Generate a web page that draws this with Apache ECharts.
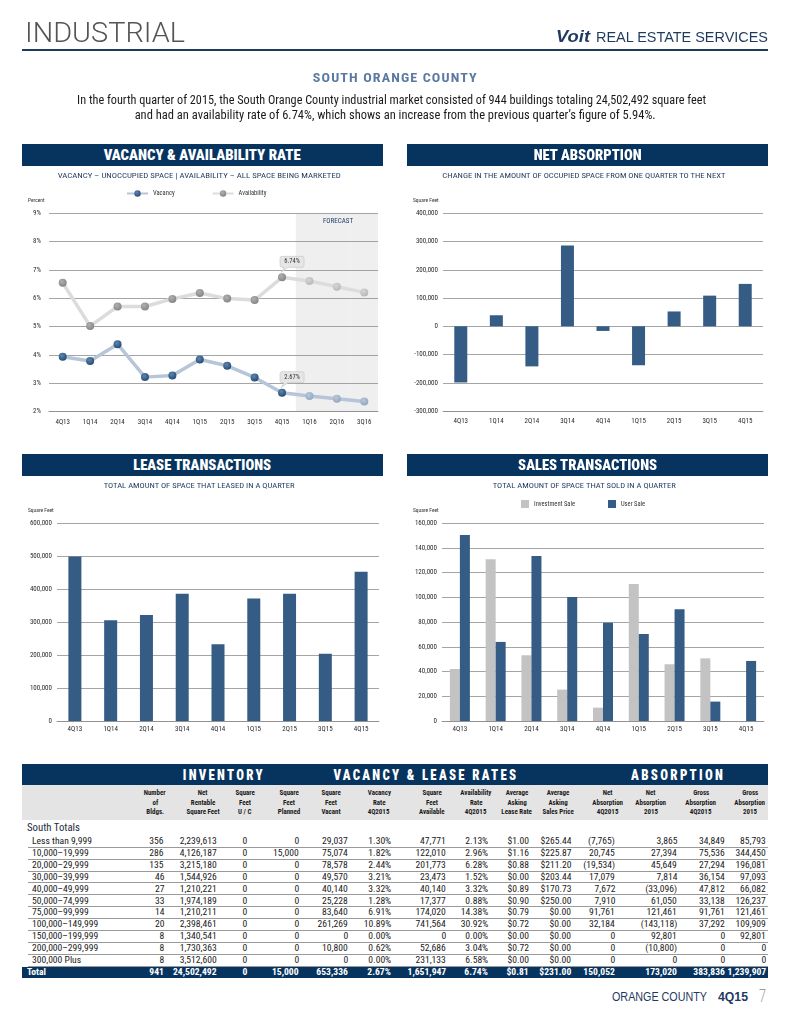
<!DOCTYPE html>
<html><head><meta charset="utf-8">
<script src="https://cdn.jsdelivr.net/npm/echarts@6/dist/echarts.min.js"></script>
<style>
html,body{margin:0;padding:0;background:#fff;}
body{width:790px;height:1024px;position:relative;overflow:hidden;font-family:"Liberation Sans Narrow","Roboto Condensed","Arial Narrow",Roboto,"Liberation Sans",sans-serif;}
.t{position:absolute;white-space:nowrap;line-height:1;}
.r{position:absolute;}
</style></head><body>
<div id="chart" style="position:absolute;left:0;top:0;width:790px;height:760px;"></div>
<div id="page"></div>
<script>
// ---------------- DATA ----------------
const quartersForecast = ['4Q13','1Q14','2Q14','3Q14','4Q14','1Q15','2Q15','3Q15','4Q15','1Q16','2Q16','3Q16'];
const forecastQuarters = ['1Q16','2Q16','3Q16'];
const vacancyRate = [3.94,3.79,4.38,3.22,3.28,3.84,3.62,3.21,2.67,2.55,2.46,2.36];
const availabilityRate = [6.55,5.02,5.71,5.71,5.98,6.19,5.99,5.94,6.74,6.61,6.41,6.21];
const calloutQuarter = '4Q15';

const quarters = ['4Q13','1Q14','2Q14','3Q14','4Q14','1Q15','2Q15','3Q15','4Q15'];
const netAbsorption = [-199000,39000,-142000,286000,-16500,-138000,52500,108468,150052];
const leaseTransactions = [499000,306000,322000,386000,233000,372000,386000,204000,453000];
const investmentSale = [42100,130900,53200,25400,10800,110900,45900,50700,0];
const userSale = [150600,64000,133600,100400,79600,70400,90400,15700,48600];

const sizeRanges = ['Less than 9,999','10,000\u201319,999','20,000\u201329,999','30,000\u201339,999','40,000\u201349,999','50,000\u201374,999','75,000\u201399,999','100,000\u2013149,999','150,000\u2013199,999','200,000\u2013299,999','300,000 Plus'];
const bldgs = [356,286,135,46,27,33,14,20,8,8,8];
const netRentable = [2239613,4126187,3215180,1544926,1210221,1974189,1210211,2398461,1340541,1730363,3512600];
const sfUC = [0,0,0,0,0,0,0,0,0,0,0];
const sfPlanned = [0,15000,0,0,0,0,0,0,0,0,0];
const sfVacant = [29037,75074,78578,49570,40140,25228,83640,261269,0,10800,0];
const vacRate = [1.30,1.82,2.44,3.21,3.32,1.28,6.91,10.89,0.00,0.62,0.00];
const sfAvailable = [47771,122010,201773,23473,40140,17377,174020,741564,0,52686,231133];
const availRate = [2.13,2.96,6.28,1.52,3.32,0.88,14.38,30.92,0.00,3.04,6.58];
const leaseRate = [1.00,1.16,0.88,0.00,0.89,0.90,0.79,0.72,0.00,0.72,0.00];
const salesPrice = [265.44,225.87,211.20,203.44,170.73,250.00,0,0,0,0,0];
const netAbs4Q = [-7765,20745,-19534,17079,7672,7910,91761,32184,0,0,0];
const netAbs2015 = [3865,27394,45649,7814,-33096,61050,121461,-143118,92801,-10800,0];
const grossAbs4Q = [34849,75536,27294,36154,47812,33138,91761,37292,0,0,0];
const grossAbs2015 = [85793,344450,196081,97093,66082,126237,121461,109909,92801,0,0];
const totalRow = ['Total','941','24,502,492','0','15,000','653,336','2.67%','1,651,947','6.74%','$0.81','$231.00','150,052','173,020','383,836','1,239,907'];

const colHeads = [['Number','of','Bldgs.'],['Net','Rentable','Square Feet'],['Square','Feet','U / C'],['Square','Feet','Planned'],['Square','Feet','Vacant'],['Vacancy','Rate','4Q2015'],['Square','Feet','Available'],['Availability','Rate','4Q2015'],['Average','Asking','Lease Rate'],['Average','Asking','Sales Price'],['Net','Absorption','4Q2015'],['Net','Absorption','2015'],['Gross','Absorption','4Q2015'],['Gross','Absorption','2015']];

// ---------------- STYLE ----------------
const FONT = '"Liberation Sans Narrow","Roboto Condensed","Arial Narrow",Roboto,"Liberation Sans",sans-serif';
const NAVY_HDR = '#07345f';
const BAR = '#345c85';
const GRAY_BAR = '#c3c3c3';
const TXT_NAVY = '#1f3a5f';
const GRIDC = {color:'#8e8e8e', width:0.8};
const LBL = {fontSize:7, color:'#2b2b2b', fontFamily:FONT};

const page = document.getElementById('page');
function rect(x,y,w,h,c){const d=document.createElement('div');d.className='r';d.style.cssText=`left:${x}px;top:${y}px;width:${w}px;height:${h}px;background:${c}`;page.appendChild(d);return d;}
function txt(str,o){
  const d=document.createElement('div');d.className='t';d.textContent=str;
  d.style.fontSize=o.size+'px';d.style.fontWeight=o.weight||400;d.style.color=o.color||'#1a1a1a';
  if(o.font)d.style.fontFamily=o.font; if(o.ls)d.style.letterSpacing=o.ls+'px'; if(o.italic)d.style.fontStyle='italic';
  page.appendChild(d);
  const nat=d.getBoundingClientRect().width;
  const s=o.w? o.w/nat : (o.scale||1);
  const al=o.align||'left';
  const left= al==='left'?o.x : al==='center'? o.x-nat/2 : o.x-nat;
  d.style.left=left+'px'; d.style.top=(o.y-o.size/2)+'px';
  d.style.transformOrigin= al==='left'?'left center':al==='center'?'center center':'right center';
  d.style.transform='scaleX('+s+')';
  return d;
}
function measure(str,size,weight){const d=document.createElement('div');d.className='t';d.style.fontSize=size+'px';d.style.fontWeight=weight;d.textContent=str;page.appendChild(d);const w=d.getBoundingClientRect().width;page.removeChild(d);return w;}

// ---------------- PAGE HEADER ----------------
txt('INDUSTRIAL',{x:25,y:33.5,size:27,weight:300,color:'#555',w:160,font:'Roboto,"Liberation Sans",sans-serif'});
txt('Voit',{x:556,y:36.5,size:17,weight:700,italic:true,color:TXT_NAVY,w:34,font:'"Liberation Sans",Roboto,sans-serif'});
txt('REAL ESTATE SERVICES',{x:596,y:37,size:14,color:TXT_NAVY,w:172,font:'"Liberation Sans",Roboto,sans-serif'});
rect(22,48.5,746,2.5,TXT_NAVY);
txt('SOUTH ORANGE COUNTY',{x:395,y:78,size:12.5,weight:700,color:'#5b7aa1',align:'center',w:165,ls:1});
txt('In the fourth quarter of 2015, the South Orange County industrial market consisted of 944 buildings totaling 24,502,492 square feet',{x:391.5,y:100,size:12,align:'center',w:629,color:'#1a1a1a'});
txt('and had an availability rate of 6.74%, which shows an increase from the previous quarter\u2019s figure of 5.94%.',{x:395.5,y:115,size:12,align:'center',w:521,color:'#1a1a1a'});

// section headers
const sections=[
 {t:'VACANCY & AVAILABILITY RATE',x:21.7,y:144,w:361.6,tw:197,sub:'VACANCY \u2013 UNOCCUPIED SPACE  |  AVAILABILITY \u2013 ALL SPACE BEING MARKETED',sw:283},
 {t:'NET ABSORPTION',x:406.7,y:144,w:361,tw:108,sub:'CHANGE IN THE AMOUNT OF OCCUPIED SPACE FROM ONE QUARTER TO THE NEXT',sw:283},
 {t:'LEASE TRANSACTIONS',x:21.7,y:454,w:361.6,tw:138,sub:'TOTAL AMOUNT OF SPACE THAT LEASED IN A QUARTER',sw:191},
 {t:'SALES TRANSACTIONS',x:406.7,y:454,w:361,tw:139,sub:'TOTAL AMOUNT OF SPACE THAT SOLD IN A QUARTER',sw:183}
];
sections.forEach(s=>{
  rect(s.x,s.y,s.w,21.7,NAVY_HDR);
  txt(s.t,{x:s.x+s.w/2,y:s.y+11,size:14,weight:900,color:'#fff',align:'center',w:s.tw});
  txt(s.sub,{x:s.x+s.w/2-3,y:s.y+31.7,size:8,color:TXT_NAVY,align:'center',w:s.sw});
});

// ---------------- TABLE ----------------
const TL=21.7, TW=746.6;
rect(TL,764,TW,21,NAVY_HDR);
txt('INVENTORY',{x:224,y:775,size:14,weight:900,color:'#fff',align:'center',w:82,ls:2.5});
txt('VACANCY & LEASE RATES',{x:426,y:775,size:14,weight:900,color:'#fff',align:'center',w:185,ls:2.5});
txt('ABSORPTION',{x:678,y:775,size:14,weight:900,color:'#fff',align:'center',w:94,ls:2.5});
rect(TL,785,TW,35,'#e4e4e4');
const headCenter=[155,203,245,289,331,379,432,476,517,558,608,651,701,750];
const colRight=[164,217,247,299,348,391,446,488,529,571,615,677,725,766];
const hScale = 31/measure('Availability',8,700);
colHeads.forEach((lines,ci)=>{
  lines.forEach((ln,li)=>{
    txt(ln,{x:headCenter[ci],y:793.3+li*9.2,size:8,weight:700,color:'#1a1a1a',align:'center',scale:hScale});
  });
});
txt('South Totals',{x:26.7,y:828,size:10.5,color:'#1d2d44',w:53});
const dScale = 37/measure('2,239,613',8.5,400);
const fInt=n=> n<0? '('+Math.abs(n).toLocaleString('en-US')+')' : n.toLocaleString('en-US');
const fPct=v=> v.toFixed(2)+'%';
const fUsd=v=> '$'+v.toFixed(2);
const ROW0=841, PITCH=11.95;
sizeRanges.forEach((lab,i)=>{
  const y=ROW0+i*PITCH;
  const cells=[fInt(bldgs[i]),fInt(netRentable[i]),fInt(sfUC[i]),fInt(sfPlanned[i]),fInt(sfVacant[i]),fPct(vacRate[i]),fInt(sfAvailable[i]),fPct(availRate[i]),fUsd(leaseRate[i]),fUsd(salesPrice[i]),fInt(netAbs4Q[i]),fInt(netAbs2015[i]),fInt(grossAbs4Q[i]),fInt(grossAbs2015[i])];
  txt(lab,{x:31.7,y:y,size:8.5,scale:dScale});
  cells.forEach((c,ci)=>txt(c,{x:colRight[ci],y:y,size:8.5,align:'right',scale:dScale}));
  rect(28,y+5.6,TW-6.3,0.9,'#9a9a9a');
});
const ty=ROW0+11*PITCH;
rect(TL,ty-5.5,TW,11.4,NAVY_HDR);
txt(totalRow[0],{x:26.7,y:ty,size:8.5,weight:700,color:'#fff',scale:dScale});
totalRow.slice(1).forEach((c,ci)=>txt(c,{x:colRight[ci],y:ty,size:8.5,weight:700,color:'#fff',align:'right',scale:dScale}));

// footer
txt('ORANGE COUNTY',{x:612,y:997,size:12,color:TXT_NAVY,w:95,font:'"Liberation Sans",Roboto,sans-serif'});
txt('4Q15',{x:718,y:997,size:12,weight:700,color:TXT_NAVY,w:30,font:'"Liberation Sans",Roboto,sans-serif'});
txt('7',{x:759,y:996,size:18,weight:300,color:'#9a9a9a',w:7,font:'Roboto,sans-serif'});

// ---------------- CHARTS ----------------
const chart = echarts.init(document.getElementById('chart'),null,{renderer:'canvas'});
const fmtK = v => v.toLocaleString('en-US');
function yAx(gi,min,max,interval,fmt,margin){
  return {type:'value',gridIndex:gi,min,max,interval,axisLine:{show:false},axisTick:{show:false},
    splitLine:{show:true,lineStyle:GRIDC},axisLabel:Object.assign({formatter:fmt,margin,padding:[0,0,5,0]},LBL)};
}
function xAx(gi,data,margin){
  return {type:'category',gridIndex:gi,data,axisTick:{show:false},axisLine:{onZero:false,lineStyle:GRIDC},
    axisLabel:Object.assign({margin,interval:0},LBL)};
}
const grad = (c1,c2)=>({type:'radial',x:0.4,y:0.35,r:0.75,colorStops:[{offset:0,color:c1},{offset:1,color:c2}]});
const vacColor = grad('#5f86ad','#1b4470'), vacFc = grad('#b9c8da','#8ea3bf');
const avColor = grad('#b0b0b0','#7f7f7f'), avFc = grad('#d6d6d6','#b4b4b4');
function lineData(arr,normal,fc){
  return arr.map((v,i)=>({value:v,itemStyle:{color:forecastQuarters.includes(quartersForecast[i])?fc:normal}}));
}
// callout bubble (rounded box with a tail pointing to the point)
const BUBBLE = 'path://M2,0 H22 Q24,0 24,2 V9 Q24,11 22,11 H8 L1,16 L4,11 H2 Q0,11 0,9 V2 Q0,0 2,0 Z';
function callout(arr){
  const i=quartersForecast.indexOf(calloutQuarter);
  return {silent:true,symbol:BUBBLE,symbolSize:[24,16],symbolKeepAspect:false,symbolOffset:[10,-13],
    itemStyle:{color:'#e6e6e6',borderColor:'#c4c4c4',borderWidth:0.6},
    label:{show:true,position:'inside',offset:[0,-2.5],formatter:'{c}%',fontSize:6.5,color:'#333',fontFamily:FONT},
    data:[{coord:[calloutQuarter,arr[i]],value:arr[i]}]};
}
const smallT = (text,x,y)=>({type:'text',x,y,style:{text,fontSize:5.5,fontFamily:FONT,fill:'#333',align:'left',verticalAlign:'middle'}});

chart.setOption({
  animation:false,
  textStyle:{fontFamily:FONT},
  grid:[
    {left:49,top:213.3,width:329,height:198.4,outerBoundsMode:'none'},
    {left:443,top:213.3,width:320,height:197.7,outerBoundsMode:'none'},
    {left:57,top:523.3,width:322,height:197.7,outerBoundsMode:'none'},
    {left:442,top:523.3,width:322,height:197.7,outerBoundsMode:'none'}
  ],
  xAxis:[xAx(0,quartersForecast,7),xAx(1,quarters,7),xAx(2,quarters,5),xAx(3,quarters,5)],
  yAxis:[yAx(0,2,9,1,'{value}%',8),yAx(1,-300000,400000,100000,fmtK,5),yAx(2,0,600000,100000,fmtK,5),yAx(3,0,160000,20000,fmtK,5)],
  legend:[
    {data:['Vacancy','Availability'],left:121,top:185,itemWidth:21,itemHeight:8,itemGap:37,selectedMode:false,
      textStyle:{fontSize:6.5,color:'#333',fontFamily:FONT}},
    {data:['Investment Sale','User Sale'],left:516,top:495,itemWidth:8,itemHeight:8,itemGap:33,icon:'rect',selectedMode:false,
      textStyle:{fontSize:6.5,color:'#333',fontFamily:FONT}}
  ],
  graphic:[
    smallT('Percent',28,200.5),smallT('Square Feet',413,200.5),smallT('Square Feet',28,510.7),smallT('Square Feet',413,510.7),
    {type:'text',x:338,y:221,z:10,style:{text:'FORECAST',fontSize:7,fontFamily:FONT,fill:TXT_NAVY,align:'center',verticalAlign:'middle'}}
  ],
  series:[
    {name:'Forecast',type:'bar',xAxisIndex:0,yAxisIndex:0,silent:true,z:-1,barWidth:'100%',
      data:quartersForecast.map(q=>forecastQuarters.includes(q)?9:'-'),itemStyle:{color:'#efefef'}},
    {name:'Vacancy',type:'line',xAxisIndex:0,yAxisIndex:0,symbol:'circle',symbolSize:8,showAllSymbol:true,
      lineStyle:{color:'#b7c5d8',width:3.5},itemStyle:{color:vacColor},data:lineData(vacancyRate,vacColor,vacFc),
      markPoint:callout(vacancyRate)},
    {name:'Availability',type:'line',xAxisIndex:0,yAxisIndex:0,symbol:'circle',symbolSize:8,showAllSymbol:true,
      lineStyle:{color:'#dcdcdc',width:3.5},itemStyle:{color:avColor},data:lineData(availabilityRate,avColor,avFc),
      markPoint:callout(availabilityRate)},
    {name:'Net Absorption',type:'bar',xAxisIndex:1,yAxisIndex:1,barWidth:13,itemStyle:{color:BAR},data:netAbsorption},
    {name:'Lease Transactions',type:'bar',xAxisIndex:2,yAxisIndex:2,barWidth:13,itemStyle:{color:BAR},data:leaseTransactions},
    {name:'Investment Sale',type:'bar',xAxisIndex:3,yAxisIndex:3,barWidth:10,barGap:'0%',itemStyle:{color:GRAY_BAR},data:investmentSale},
    {name:'User Sale',type:'bar',xAxisIndex:3,yAxisIndex:3,barWidth:10,barGap:'0%',itemStyle:{color:BAR},data:userSale}
  ]
});
</script>
</body></html>
